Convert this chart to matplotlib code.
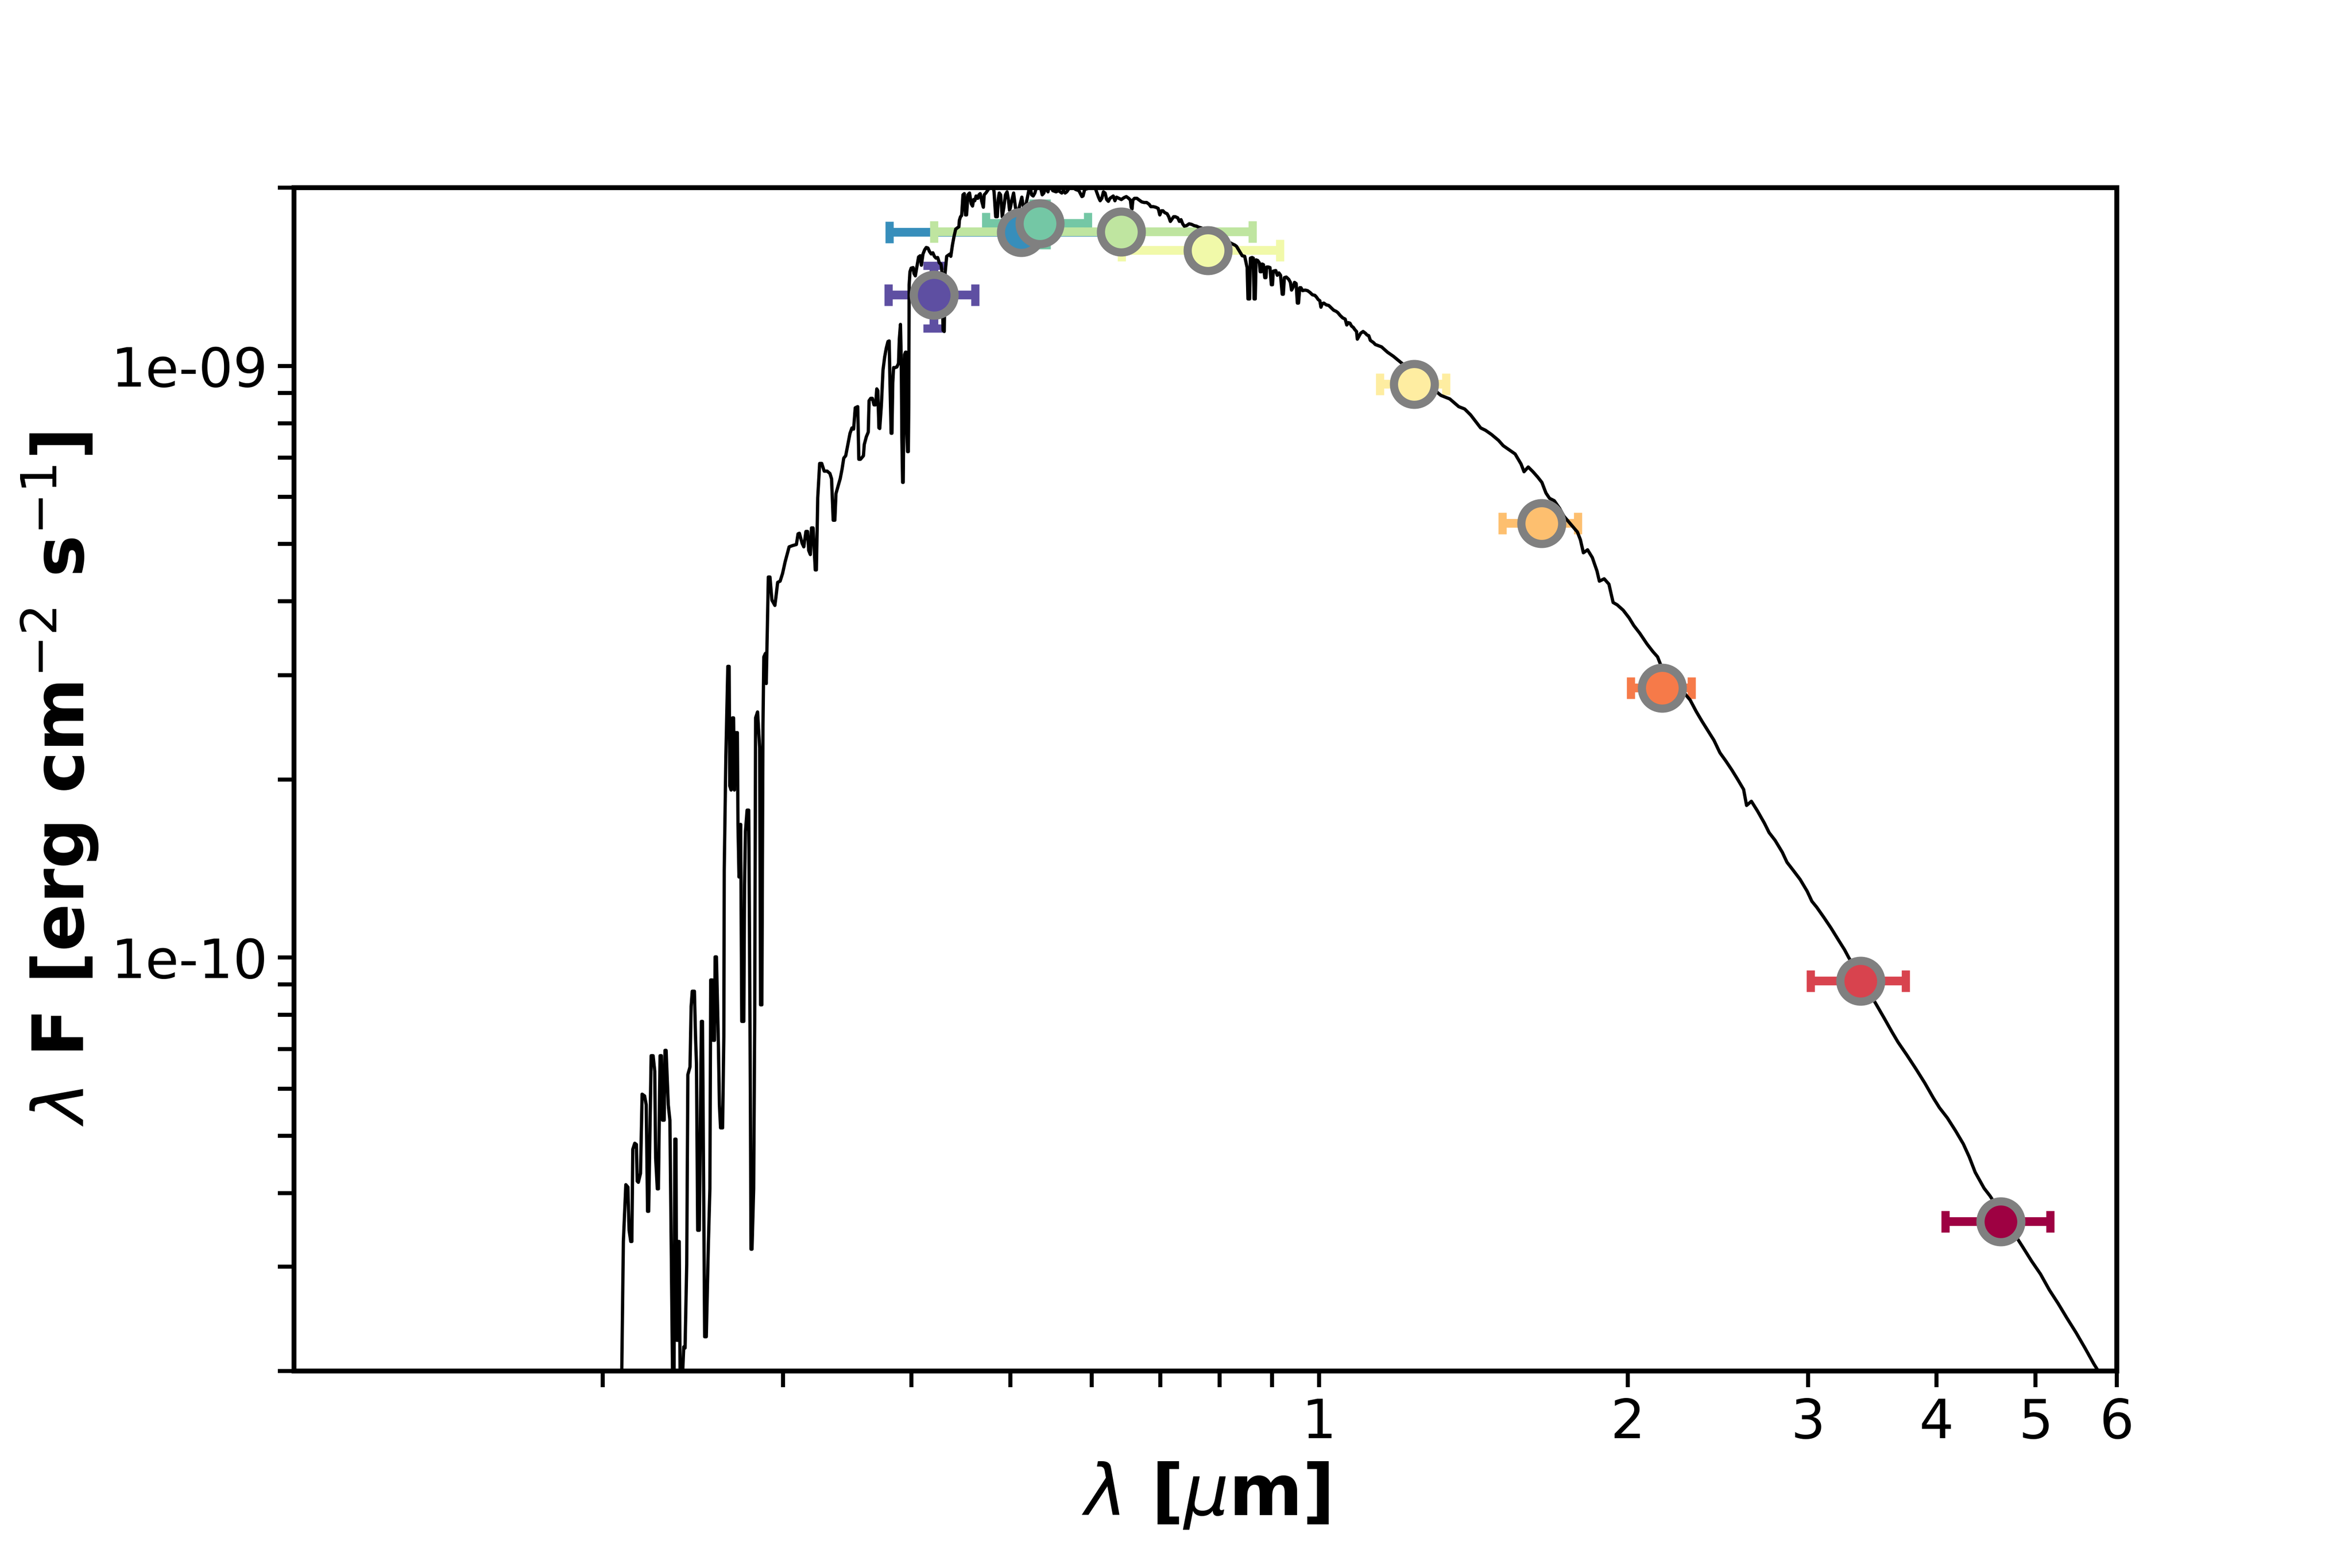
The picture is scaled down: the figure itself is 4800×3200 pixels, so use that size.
import numpy as np
import matplotlib
matplotlib.use("Agg")
import matplotlib.pyplot as plt
from matplotlib.ticker import FormatStrFormatter, NullFormatter, FixedLocator, LogLocator

# ---------------- photometry (wavelength in micron, lambda*F in erg/cm2/s) ----------------
phot_wave = [0.421, 0.512, 0.534, 0.641, 0.779, 1.238, 1.649, 2.161, 3.375, 4.624]
phot_wave_err = [0.041, 0.131, 0.061, 0.220, 0.137, 0.092, 0.139, 0.148, 0.358, 0.540]
phot_flux = [1.317e-9, 1.681e-9, 1.740e-9, 1.684e-9, 1.567e-9,
             9.31e-10, 5.42e-10, 2.854e-10, 9.12e-11, 3.58e-11]
phot_flux_err = [1.6e-10, 3.0e-11, 1.4e-10, 2.0e-11, 2.0e-11,
                 1.5e-11, 8.0e-12, 4.0e-12, 1.5e-12, 6.0e-13]

# ---------------- model spectrum (log10 micron, log10 erg/cm2/s) ----------------
model_log_wave = [
    -0.6806, -0.6803, -0.6787, -0.6763, -0.6743, -0.6731, -0.6715, -0.6704, -0.6695, -0.6676,
    -0.6660, -0.6652, -0.6641, -0.6620, -0.6604, -0.6580, -0.6564, -0.6551, -0.6540, -0.6516,
    -0.6497, -0.6481, -0.6472, -0.6456, -0.6445, -0.6429, -0.6416, -0.6405, -0.6389, -0.6381,
    -0.6370, -0.6349, -0.6333, -0.6317, -0.6306, -0.6293, -0.6285, -0.6274, -0.6266, -0.6258,
    -0.6249, -0.6242, -0.6233, -0.6214, -0.6198, -0.6185, -0.6169, -0.6158, -0.6137, -0.6126,
    -0.6115, -0.6094, -0.6083, -0.6074, -0.6062, -0.6046, -0.6038, -0.6026, -0.6015, -0.5994,
    -0.5978, -0.5959, -0.5943, -0.5935, -0.5919, -0.5911, -0.5898, -0.5892, -0.5879, -0.5860,
    -0.5850, -0.5839, -0.5819, -0.5807, -0.5803, -0.5787, -0.5768, -0.5755, -0.5749, -0.5736,
    -0.5723, -0.5712, -0.5704, -0.5696, -0.5675, -0.5669, -0.5659, -0.5643, -0.5632, -0.5612,
    -0.5605, -0.5596, -0.5580, -0.5564, -0.5556, -0.5548, -0.5542, -0.5532, -0.5516, -0.5506,
    -0.5497, -0.5478, -0.5457, -0.5449, -0.5436, -0.5425, -0.5417, -0.5401, -0.5393, -0.5385,
    -0.5373, -0.5357, -0.5338, -0.5309, -0.5298, -0.5282, -0.5258, -0.5234, -0.5210, -0.5170,
    -0.5139, -0.5099, -0.5083, -0.5070, -0.5043, -0.5027, -0.5006, -0.4990, -0.4979, -0.4963,
    -0.4952, -0.4936, -0.4915, -0.4904, -0.4891, -0.4872, -0.4852, -0.4828, -0.4799, -0.4772,
    -0.4756, -0.4740, -0.4724, -0.4713, -0.4692, -0.4672, -0.4653, -0.4637, -0.4618, -0.4597,
    -0.4576, -0.4557, -0.4541, -0.4525, -0.4501, -0.4490, -0.4474, -0.4445, -0.4437, -0.4417,
    -0.4398, -0.4390, -0.4374, -0.4358, -0.4342, -0.4326, -0.4315, -0.4305, -0.4294, -0.4286,
    -0.4270, -0.4254, -0.4238, -0.4222, -0.4206, -0.4194, -0.4186, -0.4175, -0.4167, -0.4159,
    -0.4151, -0.4135, -0.4119, -0.4103, -0.4095, -0.4084, -0.4076, -0.4070, -0.4063, -0.4057,
    -0.4050, -0.4044, -0.4035, -0.4028, -0.4023, -0.4015, -0.4007, -0.4003, -0.3999, -0.3991,
    -0.3980, -0.3960, -0.3952, -0.3939, -0.3928, -0.3917, -0.3907, -0.3891, -0.3880, -0.3864,
    -0.3848, -0.3832, -0.3816, -0.3800, -0.3784, -0.3768, -0.3753, -0.3737, -0.3721, -0.3705,
    -0.3689, -0.3681, -0.3668, -0.3657, -0.3649, -0.3633, -0.3617, -0.3601, -0.3593, -0.3577,
    -0.3561, -0.3545, -0.3530, -0.3514, -0.3509, -0.3498, -0.3487, -0.3474, -0.3461, -0.3450,
    -0.3439, -0.3426, -0.3410, -0.3394, -0.3381, -0.3370, -0.3359, -0.3346, -0.3330, -0.3318,
    -0.3306, -0.3291, -0.3275, -0.3267, -0.3251, -0.3227, -0.3203, -0.3187, -0.3171, -0.3155,
    -0.3139, -0.3131, -0.3120, -0.3107, -0.3091, -0.3076, -0.3060, -0.3044, -0.3031, -0.3020,
    -0.3012, -0.2996, -0.2980, -0.2964, -0.2948, -0.2932, -0.2916, -0.2900, -0.2884, -0.2872,
    -0.2853, -0.2837, -0.2821, -0.2805, -0.2789, -0.2773, -0.2749, -0.2725, -0.2701, -0.2685,
    -0.2669, -0.2645, -0.2629, -0.2598, -0.2566, -0.2542, -0.2510, -0.2494, -0.2478, -0.2462,
    -0.2438, -0.2406, -0.2375, -0.2343, -0.2314, -0.2303, -0.2287, -0.2247, -0.2215, -0.2183,
    -0.2152, -0.2136, -0.2120, -0.2104, -0.2088, -0.2072, -0.2056, -0.2040, -0.2024, -0.2008,
    -0.1992, -0.1976, -0.1953, -0.1929,
    -0.1905, -0.1881, -0.1857, -0.1841, -0.1833, -0.1825, -0.1817, -0.1801, -0.1777, -0.1754,
    -0.1730, -0.1706, -0.1682, -0.1658, -0.1642, -0.1618, -0.1594, -0.1570, -0.1554, -0.1538,
    -0.1523, -0.1507, -0.1483, -0.1467, -0.1451, -0.1435, -0.1419, -0.1403, -0.1379, -0.1363,
    -0.1347, -0.1331, -0.1315, -0.1292, -0.1268, -0.1244, -0.1220, -0.1196, -0.1172, -0.1148,
    -0.0846, -0.0822, -0.0806, -0.0750, -0.0726, -0.0702, -0.0694, -0.0678, -0.0670, -0.0654,
    -0.0642, -0.0634, -0.0623, -0.0615, -0.0599, -0.0583, -0.0575, -0.0562, -0.0556, -0.0543,
    -0.0530, -0.0519, -0.0511, -0.0495, -0.0479, -0.0466, -0.0455, -0.0447, -0.0423, -0.0408,
    -0.0392, -0.0376, -0.0360, -0.0349, -0.0339, -0.0320, -0.0296, -0.0280, -0.0269, -0.0256,
    -0.0240, -0.0224, -0.0212, -0.0201, -0.0189, -0.0177, -0.0161, -0.0137, -0.0113, -0.0089,
    -0.0065, -0.0041, -0.0025, -0.0009, 0.0007, 0.0018, 0.0030, 0.0046, 0.0070, 0.0094,
    0.0118, 0.0142, 0.0166, 0.0182, 0.0206, 0.0230, 0.0254, 0.0270, 0.0285, 0.0301,
    0.0317, 0.0333, 0.0349, 0.0365, 0.0373, 0.0389, 0.0405, 0.0429, 0.0452, 0.0468,
    0.0484, 0.0500, 0.0516, 0.0532, 0.0548,
    0.0609, 0.0667, 0.0725, 0.1188, 0.1275, 0.1362, 0.1420, 0.1478, 0.1536, 0.1576,
    0.1623, 0.1681, 0.1750, 0.1796, 0.1854, 0.1912, 0.1970, 0.1999, 0.2040, 0.2086,
    0.2132, 0.2173, 0.2213, 0.2248, 0.2294, 0.2346, 0.2387, 0.2520, 0.2549, 0.2578,
    0.2619, 0.2665, 0.2711, 0.2734, 0.2781, 0.2827, 0.2868, 0.2908, 0.2966, 0.3024,
    0.3070, 0.3128, 0.3198, 0.3256, 0.3302, 0.3331, 0.3620, 0.3678, 0.3736, 0.3794,
    0.3852, 0.3910, 0.3968, 0.4026, 0.4083, 0.4141, 0.4170, 0.4217, 0.4275, 0.4344,
    0.4390, 0.4448, 0.4518, 0.4564, 0.4622, 0.4692, 0.4761, 0.4807, 0.4854, 0.4923,
    0.4993, 0.5068, 0.5126, 0.5166, 0.5444, 0.5514, 0.5589, 0.5647, 0.5734, 0.5821,
    0.5908, 0.5994, 0.6052, 0.6128, 0.6209, 0.6284, 0.6342, 0.6400, 0.6487, 0.6545,
    0.6863, 0.6950, 0.7037, 0.7124, 0.7210, 0.7297, 0.7384, 0.7471, 0.7558, 0.7616,
    0.7760,
]

model_log_flux = [
    -10.878, -10.705, -10.480, -10.384, -10.388, -10.461, -10.480, -10.480, -10.324, -10.314,
    -10.316, -10.378, -10.380, -10.365, -10.231, -10.234, -10.249, -10.429, -10.429, -10.166,
    -10.166, -10.192, -10.339, -10.391, -10.391, -10.166, -10.166, -10.275, -10.275, -10.157,
    -10.157, -10.249, -10.275, -10.545, -10.724, -10.724, -10.307, -10.307, -10.647, -10.647,
    -10.480, -10.480, -10.724, -10.724, -10.658, -10.660, -10.519, -10.198, -10.185, -10.083,
    -10.057, -10.057, -10.134, -10.179, -10.461, -10.461, -10.314, -10.108, -10.108, -10.641,
    -10.641, -10.493, -10.391, -10.038, -10.038, -10.140, -10.140, -9.999, -9.999, -10.147,
    -10.249, -10.288, -10.288, -10.134, -9.852, -9.659, -9.508, -9.508, -9.710, -9.717,
    -9.595, -9.595, -9.717, -9.620, -9.620, -9.775, -9.864, -9.775, -10.108, -10.108,
    -9.877, -9.787, -9.751, -9.751, -9.980, -10.237, -10.493, -10.493, -10.391, -10.108,
    -9.595, -9.585, -9.646, -10.080, -10.080, -9.608, -9.492, -9.486, -9.537, -9.466,
    -9.357, -9.357, -9.396, -9.405, -9.390, -9.366, -9.364, -9.351, -9.332, -9.306,
    -9.304, -9.302, -9.284, -9.283, -9.300, -9.306, -9.280, -9.280, -9.312, -9.319,
    -9.274, -9.274, -9.345, -9.345, -9.223, -9.165, -9.165, -9.178, -9.178, -9.182,
    -9.191, -9.261, -9.261, -9.216, -9.203, -9.191, -9.174, -9.156, -9.152, -9.133,
    -9.114, -9.105, -9.107, -9.071, -9.069, -9.158, -9.158, -9.152, -9.133, -9.120,
    -9.112, -9.059, -9.055, -9.055, -9.066, -9.066, -9.039, -9.042, -9.105, -9.106,
    -9.066, -9.007, -8.985, -8.970, -8.959, -8.958, -9.029, -9.114, -9.114, -9.029,
    -9.003, -9.003, -9.002, -8.996, -8.955, -8.930, -8.992, -9.122, -9.197, -9.197,
    -9.066, -8.981, -8.977, -8.977, -9.103, -9.145, -9.145, -9.066, -8.863, -8.841,
    -8.835, -8.834, -8.844, -8.848, -8.837, -8.826, -8.816, -8.814, -8.830, -8.811,
    -8.804, -8.800, -8.801, -8.807, -8.811, -8.809, -8.815, -8.818, -8.817, -8.826,
    -8.828, -8.837, -8.940, -8.942, -8.844, -8.815, -8.813, -8.811, -8.815, -8.796,
    -8.781, -8.769, -8.767, -8.765, -8.754, -8.748, -8.746, -8.711, -8.709, -8.745,
    -8.745, -8.711, -8.708, -8.726, -8.730, -8.719, -8.721, -8.713, -8.717, -8.711,
    -8.709, -8.722, -8.732, -8.711, -8.708, -8.702, -8.689, -8.689, -8.706, -8.748,
    -8.748, -8.719, -8.708, -8.711, -8.748, -8.733, -8.711, -8.706, -8.719, -8.737,
    -8.733, -8.719, -8.708, -8.730, -8.745, -8.737, -8.726, -8.715, -8.732, -8.741,
    -8.722, -8.708, -8.693, -8.711, -8.713, -8.708, -8.693, -8.693, -8.711, -8.708,
    -8.698, -8.706, -8.693, -8.704, -8.706, -8.704, -8.708, -8.704, -8.708, -8.706,
    -8.700, -8.698, -8.702, -8.704, -8.714, -8.713, -8.702, -8.700, -8.698, -8.700,
    -8.715, -8.721, -8.717, -8.706, -8.708, -8.719, -8.722, -8.717, -8.715, -8.713,
    -8.721, -8.715, -8.717, -8.719,
    -8.716, -8.714, -8.717, -8.720, -8.732, -8.735, -8.720, -8.717, -8.717, -8.720,
    -8.723, -8.724, -8.724, -8.727, -8.731, -8.731, -8.732, -8.734, -8.745, -8.738,
    -8.738, -8.741, -8.743, -8.748, -8.756, -8.752, -8.748, -8.748, -8.750, -8.756,
    -8.753, -8.760, -8.764, -8.763, -8.760, -8.761, -8.763, -8.764, -8.766, -8.767,
    -8.794, -8.796, -8.798, -8.814, -8.815, -8.834, -8.887, -8.887, -8.818, -8.817,
    -8.818, -8.887, -8.887, -8.821, -8.822, -8.826, -8.841, -8.841, -8.828, -8.829,
    -8.851, -8.851, -8.833, -8.833, -8.834, -8.863, -8.863, -8.840, -8.839, -8.847,
    -8.843, -8.847, -8.879, -8.879, -8.851, -8.850, -8.854, -8.859, -8.872, -8.868,
    -8.859, -8.861, -8.894, -8.894, -8.868, -8.868, -8.873, -8.872, -8.873, -8.876,
    -8.880, -8.881, -8.884, -8.888, -8.890, -8.901, -8.895, -8.894, -8.897, -8.898,
    -8.902, -8.906, -8.908, -8.910, -8.915, -8.919, -8.921, -8.931, -8.927, -8.928,
    -8.933, -8.935, -8.939, -8.942, -8.955, -8.950, -8.945, -8.942, -8.945, -8.948,
    -8.949, -8.957, -8.959, -8.961, -8.964,
    -8.968, -8.977, -8.984, -9.050, -9.056, -9.069, -9.073, -9.083, -9.096, -9.105,
    -9.109, -9.116, -9.126, -9.135, -9.142, -9.149, -9.166, -9.179, -9.171, -9.179,
    -9.188, -9.197, -9.215, -9.224, -9.228, -9.241, -9.254, -9.281, -9.294, -9.316,
    -9.311, -9.324, -9.347, -9.364, -9.360, -9.369, -9.400, -9.404, -9.413, -9.426,
    -9.439, -9.452, -9.470, -9.483, -9.492, -9.505, -9.565, -9.584, -9.601, -9.617,
    -9.633, -9.654, -9.668, -9.683, -9.699, -9.716, -9.743, -9.736, -9.752, -9.773,
    -9.789, -9.802, -9.822, -9.839, -9.852, -9.868, -9.888, -9.905, -9.915, -9.932,
    -9.950, -9.971, -9.987, -10.000, -10.082, -10.103, -10.126, -10.143, -10.165, -10.188,
    -10.212, -10.238, -10.254, -10.271, -10.293, -10.315, -10.337, -10.363, -10.390, -10.403,
    -10.489, -10.513, -10.535, -10.562, -10.585, -10.610, -10.634, -10.660, -10.687, -10.703,
    -10.742,
]

x_tick_values = [1, 2, 3, 4, 5, 6]

model_wave = 10.0 ** np.array(model_log_wave)
model_flux = 10.0 ** np.array(model_log_flux)

fig = plt.figure(figsize=(12, 8), dpi=400)
ax = fig.add_axes([0.125, 0.1256, 0.775, 0.7547])

colors = plt.cm.Spectral_r(np.linspace(0, 1, len(phot_wave)))

for i in range(len(phot_wave)):
    ax.errorbar(phot_wave[i], phot_flux[i], xerr=phot_wave_err[i], yerr=phot_flux_err[i],
                fmt='none', ecolor=colors[i], elinewidth=3.2, capsize=4, capthick=3,
                zorder=2)

ax.plot(model_wave, model_flux, color='black', lw=1.2, zorder=3)

for i in range(len(phot_wave)):
    ax.plot(phot_wave[i], phot_flux[i], marker='o', linestyle='none', ms=15,
            markerfacecolor=colors[i], markeredgecolor='gray', markeredgewidth=3,
            zorder=4)

ax.set_xscale('log')
ax.set_yscale('log')
ax.set_xlim(0.1, 6)
ax.set_ylim(2e-11, 2e-9)

ax.xaxis.set_major_locator(FixedLocator(x_tick_values))
ax.xaxis.set_major_formatter(FormatStrFormatter('%d'))
ax.xaxis.set_minor_locator(LogLocator(base=10, subs=np.arange(2, 10)))
ax.xaxis.set_minor_formatter(NullFormatter())
ax.yaxis.set_major_locator(LogLocator(base=10))
ax.yaxis.set_major_formatter(FormatStrFormatter('%.0e'))
ax.yaxis.set_minor_locator(LogLocator(base=10, subs=np.arange(2, 10)))
ax.yaxis.set_minor_formatter(NullFormatter())

ax.tick_params(which='both', length=6, width=1.5, labelsize=20)
for s in ax.spines.values():
    s.set_linewidth(1.8)

ax.set_xlabel(r'$\lambda$ [$\mu$m]', fontsize=26, fontweight='bold')
ax.set_ylabel(r'$\lambda$ F [erg cm$^{-2}$ s$^{-1}$]', fontsize=26, fontweight='bold')

fig.savefig('out.png', dpi=400)
